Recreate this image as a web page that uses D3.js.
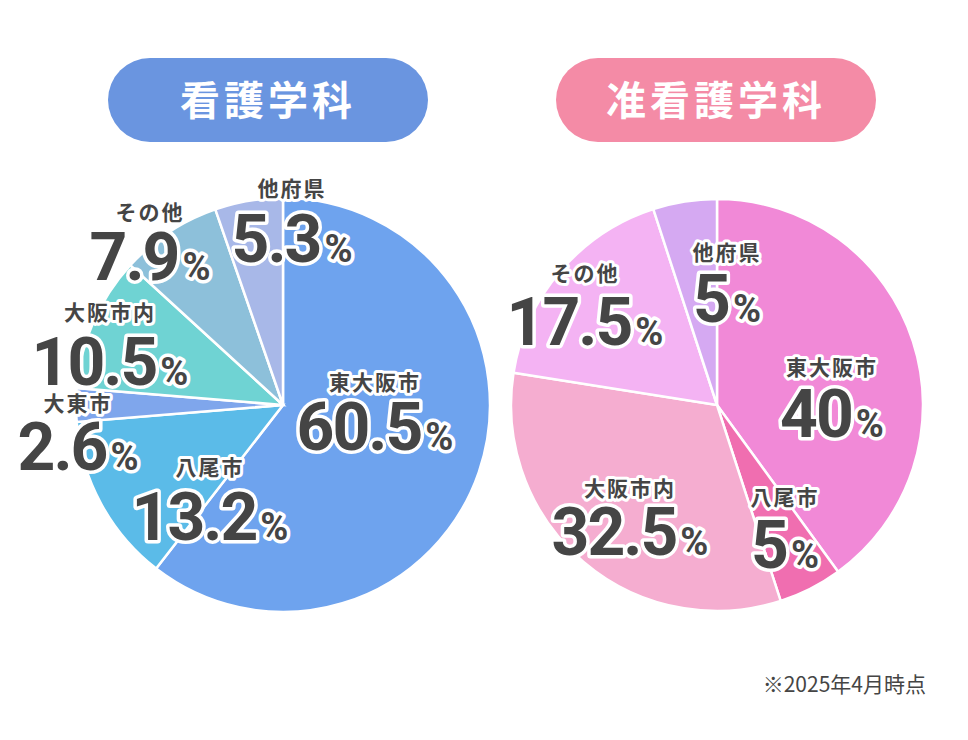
<!DOCTYPE html>
<html><head><meta charset="utf-8">
<script src="https://cdn.jsdelivr.net/npm/d3@7"></script>
<style>
body{margin:0;background:#fff}
svg text{font-family:"Noto Sans CJK JP","Noto Sans",sans-serif;font-weight:700}
</style></head><body>
<svg id="c" width="968" height="740"></svg>
<script>
'use strict'

const titles = ['看護学科', '准看護学科']
const leftNames = ['東大阪市', '八尾市', '大東市', '大阪市内', 'その他', '他府県']
const leftValues = [60.5, 13.2, 2.6, 10.5, 7.9, 5.3]
const leftColors = ['#6ea3ee', '#5bbbe8', '#7fa6ec', '#6fd3d3', '#8dc0da', '#a8b8e8']
const rightNames = ['東大阪市', '八尾市', '大阪市内', 'その他', '他府県']
const rightValues = [40, 5, 32.5, 17.5, 5]
const rightColors = ['#f189d7', '#f06eb0', '#f5add0', '#f4b3f3', '#d5a9f2']
const note = '※2025年4月時点'

// label anchors (centre x, name y, number baseline y), per slice
const leftLabelPos = [[375, 390, 450], [210, 475, 540], [78, 411, 470], [110, 320, 385], [150, 220, 280], [292, 196, 262]]
const rightLabelPos = [[832, 375, 437], [785, 505, 568], [630, 496, 555], [585, 281, 345], [727, 260, 322]]

const svg = d3.select('#c')

function drawPie(cx, cy, r, names, values, colors, labelPos) {
	const pie = d3.pie().sort(null).value(d => d)
	const arc = d3.arc().innerRadius(0).outerRadius(r)
	const g = svg.append('g').attr('transform', `translate(${cx},${cy})`)
	g.selectAll('path').data(pie(values)).enter().append('path')
		.attr('d', arc)
		.attr('fill', (d, i) => colors[i])
		.attr('stroke', '#fff').attr('stroke-width', 2.5)

	names.forEach((name, i) => {
		const [x, ny, vy] = labelPos[i]
		svg.append('text').attr('x', x).attr('y', ny).attr('text-anchor', 'middle')
			.attr('font-size', 21).attr('letter-spacing', 2)
			.attr('fill', '#454545').attr('stroke', '#fff').attr('stroke-width', 6)
			.attr('stroke-linejoin', 'round').attr('paint-order', 'stroke')
			.text(name)
		const t = svg.append('text').attr('x', x).attr('y', vy).attr('text-anchor', 'middle')
			.attr('fill', '#454545').attr('stroke', '#fff').attr('stroke-width', 7)
			.attr('stroke-linejoin', 'round').attr('paint-order', 'stroke')
			.style('font-family', 'Roboto, sans-serif')
		t.append('tspan').attr('font-size', 66).attr('letter-spacing', -2).text(values[i])
		t.append('tspan').attr('font-size', 38).attr('dx', 4).text('%')
	})
}

function drawTitle(x, w, text, color) {
	svg.append('rect').attr('x', x).attr('y', 58).attr('width', w).attr('height', 84)
		.attr('rx', 42).attr('fill', color)
	svg.append('text').attr('x', x + w / 2).attr('y', 115).attr('text-anchor', 'middle')
		.attr('font-size', 40).attr('letter-spacing', 4).attr('fill', '#fff').text(text)
}

drawTitle(108, 320, titles[0], '#6a95e0')
drawTitle(556, 320, titles[1], '#f48ba6')
drawPie(283, 405, 207, leftNames, leftValues, leftColors, leftLabelPos)
drawPie(717, 405, 206, rightNames, rightValues, rightColors, rightLabelPos)

svg.append('text').attr('x', 926).attr('y', 692).attr('text-anchor', 'end')
	.attr('font-size', 21).attr('fill', '#454545').style('font-weight', 400).text(note)
</script>
</body></html>
